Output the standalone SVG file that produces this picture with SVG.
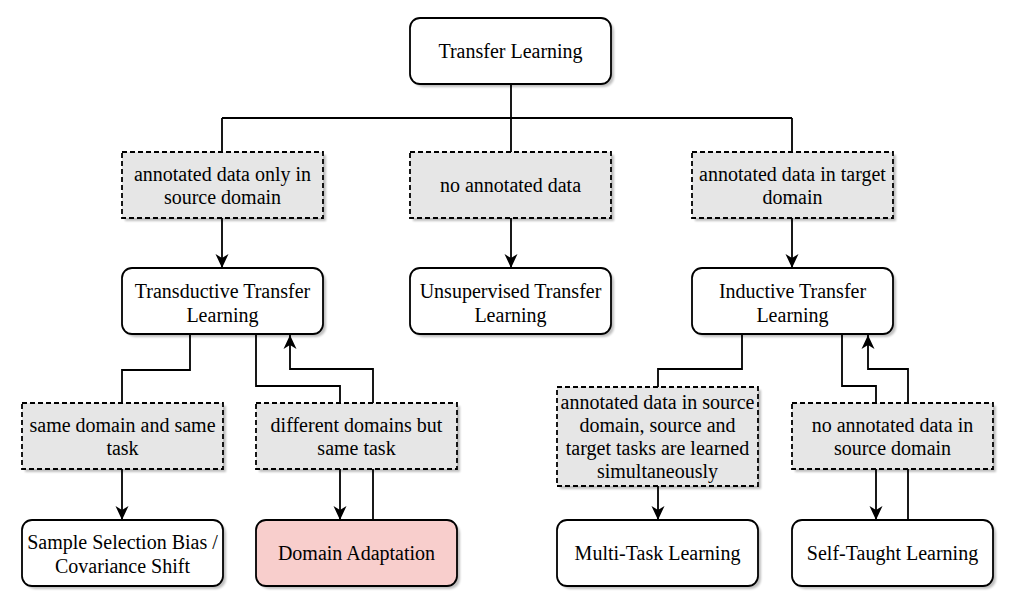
<svg xmlns="http://www.w3.org/2000/svg" width="1015" height="607" viewBox="0 0 1015 607">
<style>
.n{fill:#fff;stroke:#000;stroke-width:1.8}
.d{fill:#e6e6e6;stroke:#000;stroke-width:1.8;stroke-dasharray:5 3}
.da{fill:#f8cecc;stroke:#000;stroke-width:1.8}
.sh{fill:#000;opacity:0.25}
text{font-family:"Liberation Serif","Times New Roman",Times,serif;font-size:20px;fill:#000;text-anchor:middle}
.c{fill:none;stroke:#000;stroke-width:1.8}
</style>
<defs>
<marker id="a" viewBox="0 0 14 14" refX="14" refY="7" markerWidth="14" markerHeight="14" markerUnits="userSpaceOnUse" orient="auto">
<path d="M0,0.5 L14,7 L0,13.5 L4,7 Z" fill="#000"/>
</marker>
<filter id="s" x="-10%" y="-10%" width="130%" height="140%">
<feGaussianBlur stdDeviation="1"/>
</filter>
</defs>
<g id="connectors">
<path class="c" d="M511,84 V118 M222,118 H792 M222,118 V152 M511,118 V152 M792,118 V152"/>
<path class="c" marker-end="url(#a)" d="M222,218 V268"/>
<path class="c" marker-end="url(#a)" d="M511,218 V268"/>
<path class="c" marker-end="url(#a)" d="M792,218 V268"/>
<path class="c" d="M190,335 V370 H122 V403"/>
<path class="c" marker-end="url(#a)" d="M122,469 V520"/>
<path class="c" d="M256,335 V386 H340 V403"/>
<path class="c" marker-end="url(#a)" d="M373,403 V369 H290 V335"/>
<path class="c" marker-end="url(#a)" d="M340,468 V520"/>
<path class="c" d="M373,520 V468"/>
<path class="c" d="M742,335 V369 H658 V387"/>
<path class="c" marker-end="url(#a)" d="M658,486 V520"/>
<path class="c" d="M842,335 V386 H876 V403"/>
<path class="c" marker-end="url(#a)" d="M908,403 V369 H868 V335"/>
<path class="c" marker-end="url(#a)" d="M876,468 V520"/>
<path class="c" d="M908,520 V468"/>
</g>
<g id="transfer">
<rect class="sh" filter="url(#s)" x="413" y="21" width="201" height="66" rx="10"/>
<rect class="n" x="410" y="18" width="201" height="66" rx="10"/>
<text x="510.5" y="58">Transfer Learning</text>
</g>
<g id="q1">
<rect class="sh" filter="url(#s)" x="125" y="155" width="201" height="66"/>
<rect class="d" x="122" y="152" width="201" height="66"/>
<text x="222.5" y="181">annotated data only in</text>
<text x="222.5" y="204">source domain</text>
</g>
<g id="q2">
<rect class="sh" filter="url(#s)" x="413" y="155" width="201" height="66"/>
<rect class="d" x="410" y="152" width="201" height="66"/>
<text x="510.5" y="192">no annotated data</text>
</g>
<g id="q3">
<rect class="sh" filter="url(#s)" x="695" y="155" width="201" height="66"/>
<rect class="d" x="692" y="152" width="201" height="66"/>
<text x="792.5" y="181">annotated data in target</text>
<text x="792.5" y="204">domain</text>
</g>
<g id="transductive">
<rect class="sh" filter="url(#s)" x="125" y="271" width="201" height="66" rx="10"/>
<rect class="n" x="122" y="268" width="201" height="66" rx="10"/>
<text x="222.5" y="298">Transductive Transfer</text>
<text x="222.5" y="322">Learning</text>
</g>
<g id="unsupervised">
<rect class="sh" filter="url(#s)" x="413" y="271" width="201" height="66" rx="10"/>
<rect class="n" x="410" y="268" width="201" height="66" rx="10"/>
<text x="510.5" y="298">Unsupervised Transfer</text>
<text x="510.5" y="322">Learning</text>
</g>
<g id="inductive">
<rect class="sh" filter="url(#s)" x="695" y="271" width="201" height="66" rx="10"/>
<rect class="n" x="692" y="268" width="201" height="66" rx="10"/>
<text x="792.5" y="298">Inductive Transfer</text>
<text x="792.5" y="322">Learning</text>
</g>
<g id="q4">
<rect class="sh" filter="url(#s)" x="25" y="406" width="201" height="66"/>
<rect class="d" x="22" y="403" width="201" height="66"/>
<text x="122.5" y="432">same domain and same</text>
<text x="122.5" y="455">task</text>
</g>
<g id="q5">
<rect class="sh" filter="url(#s)" x="259" y="406" width="201" height="66"/>
<rect class="d" x="256" y="403" width="201" height="66"/>
<text x="356.5" y="432">different domains but</text>
<text x="356.5" y="455">same task</text>
</g>
<g id="q6">
<rect class="sh" filter="url(#s)" x="560" y="390" width="201" height="99"/>
<rect class="d" x="557" y="387" width="201" height="99"/>
<text x="657.5" y="409">annotated data in source</text>
<text x="657.5" y="432">domain, source and</text>
<text x="657.5" y="455">target tasks are learned</text>
<text x="657.5" y="478">simultaneously</text>
</g>
<g id="q7">
<rect class="sh" filter="url(#s)" x="795" y="406" width="201" height="66"/>
<rect class="d" x="792" y="403" width="201" height="66"/>
<text x="892.5" y="432">no annotated data in</text>
<text x="892.5" y="455">source domain</text>
</g>
<g id="ssb">
<rect class="sh" filter="url(#s)" x="25" y="523" width="201" height="66" rx="10"/>
<rect class="n" x="22" y="520" width="201" height="66" rx="10"/>
<text x="122.5" y="549">Sample Selection Bias /</text>
<text x="122.5" y="573">Covariance Shift</text>
</g>
<g id="da">
<rect class="sh" filter="url(#s)" x="259" y="523" width="201" height="66" rx="10"/>
<rect class="da" x="256" y="520" width="201" height="66" rx="10"/>
<text x="356.5" y="560">Domain Adaptation</text>
</g>
<g id="mtl">
<rect class="sh" filter="url(#s)" x="560" y="523" width="201" height="66" rx="10"/>
<rect class="n" x="557" y="520" width="201" height="66" rx="10"/>
<text x="657.5" y="560">Multi-Task Learning</text>
</g>
<g id="stl">
<rect class="sh" filter="url(#s)" x="795" y="523" width="201" height="66" rx="10"/>
<rect class="n" x="792" y="520" width="201" height="66" rx="10"/>
<text x="892.5" y="560">Self-Taught Learning</text>
</g>
</svg>
